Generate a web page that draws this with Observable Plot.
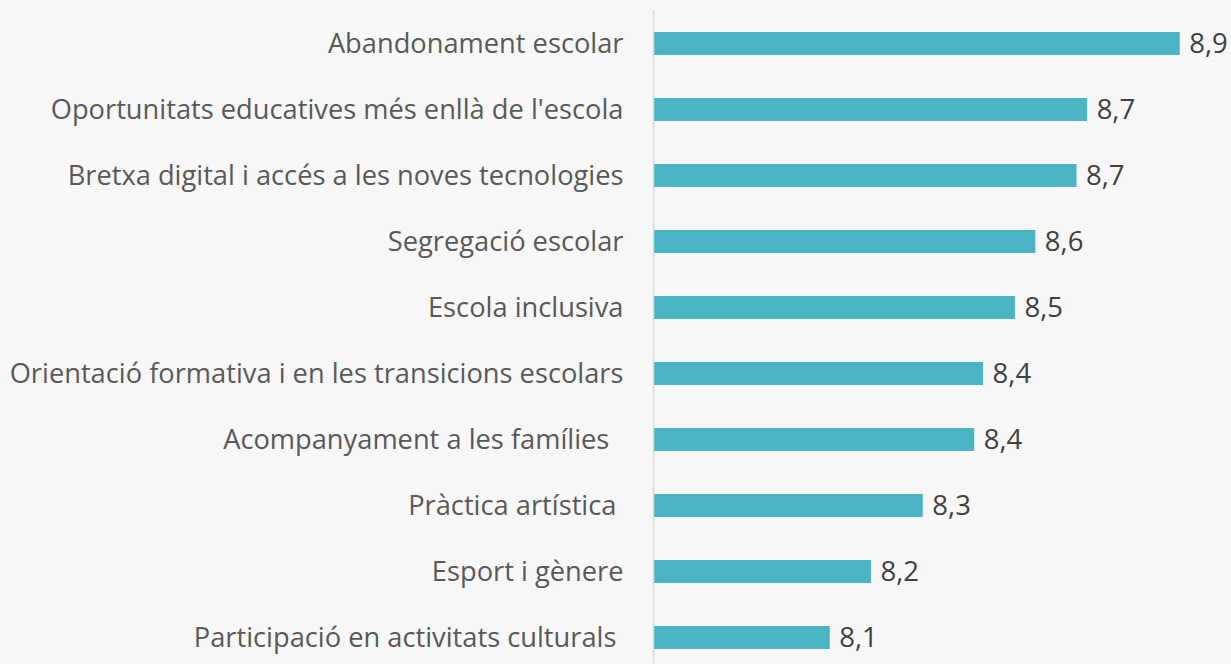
<!DOCTYPE html>
<html>
<head>
<meta charset="utf-8">
<script src="https://cdn.jsdelivr.net/npm/d3@7"></script>
<script src="https://cdn.jsdelivr.net/npm/@observablehq/plot@0.6"></script>
<style>
  html, body { margin: 0; padding: 0; background: #f7f7f7; }
  svg text { white-space: pre; }
</style>
</head>
<body>
<div id="chart"></div>
<script>
const categories = [
  "Abandonament escolar",
  "Oportunitats educatives més enllà de l'escola",
  "Bretxa digital i accés a les noves tecnologies",
  "Segregació escolar",
  "Escola inclusiva",
  "Orientació formativa i en les transicions escolars",
  "Acompanyament a les famílies  ",
  "Pràctica artística ",
  "Esport i gènere",
  "Participació en activitats culturals "
];
const values = [8.889, 8.68, 8.656, 8.563, 8.517, 8.445, 8.425, 8.309, 8.192, 8.099];
const axisMin = 7.7;
const axisMax = 9.0;

const data = categories.map((c, i) => ({category: c, value: values[i]}));

const chart = Plot.plot({
  width: 1231,
  height: 664,
  marginLeft: 653,
  marginRight: 2,
  marginTop: 10,
  marginBottom: 0,
  style: {background: "#f7f7f7", fontFamily: "'Open Sans', sans-serif", fontSize: "27px"},
  x: {domain: [axisMin, axisMax], range: [653, 1228.9], axis: null},
  y: {domain: categories, range: [31, 649.3], paddingInner: 0.647, paddingOuter: 0, axis: null},
  marks: [
    Plot.barX(data, {x1: axisMin, x2: "value", y: "category", fill: "#4bb5c6"}),
    Plot.ruleX([axisMin], {stroke: "#d9d9d9", strokeWidth: 1.5}),
    Plot.axisY({tickSize: 0, tickPadding: 30, fontSize: 27.25, fill: "#595959", textAnchor: "end", label: null}),
    Plot.text(data, {
      x: "value", y: "category",
      text: d => d.value.toFixed(1).replace(".", ","),
      dx: 9, textAnchor: "start", fill: "#404040", fontSize: 27.5
    })
  ]
});
document.getElementById("chart").appendChild(chart);
</script>
</body>
</html>
